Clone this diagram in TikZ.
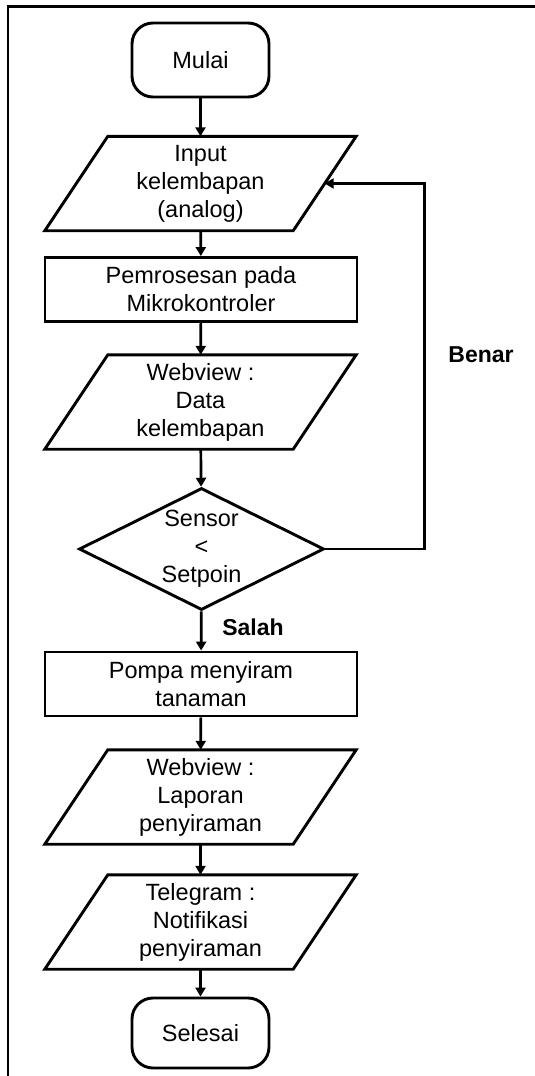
\documentclass[tikz,border=0pt]{standalone}
\usepackage{fontspec}
\setmainfont{Liberation Sans}
\usetikzlibrary{shapes.geometric,arrows.meta}

% outline of a parallelogram drawn around a rectangular text node
\newcommand\ioframe[1]{%
  \draw[shapeline] ([xshift=31.5pt]#1.north west) -- ([xshift=31.5pt]#1.north east)
    -- ([xshift=-31.5pt]#1.south east) -- ([xshift=-31.5pt]#1.south west) -- cycle;}

\begin{document}
\begin{tikzpicture}[x=1pt,y=-1pt,
  shapeline/.style={line width=2.9pt, line join=miter},
  base/.style={font=\fontsize{23.5}{28}\selectfont, align=center, inner sep=0pt},
  term/.style={base, draw, shapeline, rounded corners=21pt, minimum width=137pt, minimum height=74pt},
  iobox/.style={base, minimum width=248pt, minimum height=94pt},
  proc/.style={base, draw, shapeline, minimum width=312pt, minimum height=64pt},
  dec/.style={base, draw, shapeline, diamond, minimum width=245pt, minimum height=122pt},
  lbl/.style={font=\fontsize{23}{28}\selectfont\bfseries, inner sep=0pt},
  flow/.style={line width=2.7pt, -{Triangle[length=9pt,width=10pt]}}]

\useasboundingbox (0,0) rectangle (535,1076);

% page frame (only its top and left edges fall inside the picture)
\draw[line width=2.2pt] (8,1076) -- (8,6.5) -- (535,6.5);

\node[term] (start) at (200.5,60) {Mulai};
\node[iobox] (in) at (200.5,183.5) {Input\\kelembapan\\(analog)};
\ioframe{in}
\node[proc] (proc) at (201,289.5) {Pemrosesan pada\\Mikrokontroler};
\node[iobox] (web1) at (200.5,402) {Webview :\\Data\\kelembapan};
\ioframe{web1}
\node[dec] (dec) at (201.5,549) {};
\node[base] (dectext) at (dec) {Sensor\\<\\Setpoin};
\node[proc] (pump) at (201,684) {Pompa menyiram\\tanaman};
\node[iobox] (web2) at (200.5,797) {Webview :\\Laporan\\penyiraman};
\ioframe{web2}
\node[iobox] (tele) at (200.5,922) {Telegram :\\Notifikasi\\penyiraman};
\ioframe{tele}
\node[term, minimum height=70pt] (end) at (200.5,1033) {Selesai};

\draw[flow] (start) -- (in);
\draw[flow] (in) -- (proc);
\draw[flow] (proc) -- (web1);
\draw[flow] (web1) -- (dec);
\draw[flow] (dec) -- (pump);
\draw[flow] (pump) -- (web2);
\draw[flow] (web2) -- (tele);
\draw[flow] (tele) -- (end);
\draw[flow] (dec.east) -- ++(99,0) coordinate (loopcorner) |- (in.east);

\node[lbl] (yes) at (481,355) {Benar};
\node[lbl] (no) at (253,627) {Salah};
\end{tikzpicture}
\end{document}
